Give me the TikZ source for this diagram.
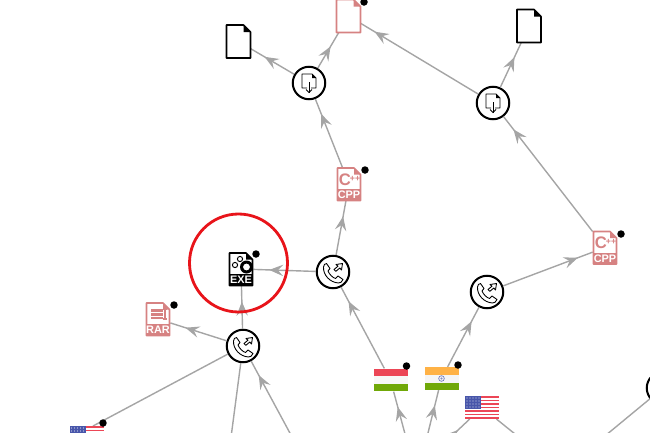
\documentclass[tikz,border=0pt]{standalone}
\usepackage{fontspec}
\setmainfont{Liberation Sans}
\usetikzlibrary{arrows.meta,decorations.markings}
\definecolor{linkgray}{RGB}{165,165,165}
\definecolor{tippink}{RGB}{214,130,130}
\definecolor{ringred}{RGB}{232,20,26}
\definecolor{usablue}{RGB}{72,86,170}
\definecolor{usared}{RGB}{236,70,86}
\definecolor{flaggreen}{RGB}{112,168,8}
\definecolor{flagorange}{RGB}{255,178,70}
\tikzset{
    plainlink/.style={color=linkgray,line width=0.8pt},
    link/.style={plainlink,postaction={decorate},decoration={markings,
        mark=at position -9pt with {\arrow{Stealth[length=8pt,width=6.5pt,inset=3pt,color=linkgray]}}}},
    callnode/.style={circle,draw,fill=white,line width=1.15pt,minimum size=0.65cm,inner sep=0pt},
    docbox/.style={minimum width=0.48cm,minimum height=0.66cm,inner sep=0pt},
    flagbox/.style={minimum width=0.68cm,minimum height=0.45cm,inner sep=0pt},
    blackdot/.style={circle,fill=black,minimum size=0.15cm,inner sep=0pt},
    badgetext/.style={text=white,font=\fontsize{6.2}{7}\selectfont\bfseries,inner sep=0pt},
    bigletter/.style={text=tippink,font=\fontsize{9.5}{10}\selectfont\bfseries,inner sep=0pt},
    smallplus/.style={text=tippink,font=\fontsize{5}{5}\selectfont\bfseries,inner sep=0pt},
    pics/phoneout/.style={code={
        \draw[line width=0.5pt,line join=round] (-9.5,-5) .. controls (-9.5,-7) and (-8,-8.5) .. (-6.5,-8.5)
            -- (-3,-3.5) -- (-5,-1) .. controls (-3.5,2.5) and (-0.5,5.5) .. (2.5,6.5)
            -- (5,4) -- (10,7.5) .. controls (9,10) and (7.5,11) .. (5.5,11)
            .. controls (-3,10.5) and (-10,3) .. (-9.5,-5) -- cycle;
        \draw[line width=0.5pt,line join=round] (1,-2.5) -- (5,-5.8) -- (3,-7.5) -- (9.5,-8.5)
            -- (8.5,-2) -- (6.8,-4) -- (2.8,-0.6) -- cycle;
    }},
    pics/docdown/.style={code={
        \draw[line width=0.5pt,line join=round] (-2,5) -- (-7,5) -- (-7,-9) -- (3,-9) -- (7,-5) -- (7,5) -- (2,5);
        \fill (3,-9) -- (3,-5) -- (7,-5) -- cycle;
        \draw[line width=0.5pt] (0,-1) -- (0,9.5);
        \draw[line width=0.5pt] (-3,6.5) -- (0,9.5) -- (3,6.5);
    }},
    pics/plaindoc/.style={code={
        \draw[#1,line width=0.9pt,line join=round] (-12,-16.5) -- (5,-16.5) -- (12,-9.5) -- (12,16.5) -- (-12,16.5) -- cycle;
        \fill[#1] (5,-16.5) -- (12,-9.5) -- (5,-9.5) -- cycle;
    }},
    pics/badge/.style 2 args={code={
        \draw[#1,line width=0.9pt,line join=round] (-11.5,-16) -- (5,-16) -- (11.5,-9.5) -- (11.5,16.5) -- (-11.5,16.5) -- cycle;
        \fill[#1] (5,-16) -- (11.5,-9.5) -- (5,-9.5) -- cycle;
        \fill[#1] (-11.5,5) rectangle (11.5,16.5);
        \node[badgetext] (label) at (0,10.8) {#2};
    }},
    pics/hungary/.style={code={
        \fill[usared] (-17,-11) rectangle (17,-4);
        \fill[black!3] (-17,-4) rectangle (17,4);
        \fill[flaggreen] (-17,4) rectangle (17,11);
    }},
    pics/india/.style={code={
        \fill[flagorange] (-17,-11.5) rectangle (17,-4);
        \fill[black!4] (-17,-4) rectangle (17,4);
        \fill[flaggreen] (-17,4) rectangle (17,11.5);
        \draw[usablue!80!white,line width=0.4pt] (0,0) circle (2.8);
        \fill[usablue!70!white] (0,0) circle (1.2);
    }},
    pics/usflag/.style={code={
        \fill[white] (-17,-11.5) rectangle (17,11.5);
        \foreach \s in {0,2,...,12} {
            \fill[usared] (-17,{-11.5+\s*1.77}) rectangle (17,{-11.5+(\s+1)*1.77});
        }
        \fill[usablue] (-17,-11.5) rectangle (-1,1);
        \foreach \x in {-15,-12,...,-3} {
            \foreach \y in {-9.5,-6.5,-3.5,-0.5} {
                \fill[white!75!usablue] (\x,\y) circle (0.6);
            }
        }
    }}
}
\begin{document}
\begin{tikzpicture}[x=0.02cm,y=-0.02cm]
    \clip (0,0) rectangle (650,433);
    % calls and downloads
    \node[callnode] (calla) at (243,346) {};
    \node[callnode] (callb) at (333,272) {};
    \node[callnode] (callc) at (487,292) {};
    \node[callnode] (loada) at (309,83) {};
    \node[callnode] (loadb) at (493,103) {};
    \node[callnode] (loadc) at (663,388) {};
    % files
    \node[docbox] (doca) at (238.5,41.5) {};
    \node[docbox] (docb) at (348.5,16) {};
    \node[docbox] (docc) at (529,26) {};
    \node[docbox] (cppa) at (349,184) {};
    \node[docbox] (cppb) at (605,247.5) {};
    \node[docbox] (exea) at (241,269) {};
    \node[docbox] (rara) at (158,319) {};
    % flags
    \node[flagbox] (flaghu) at (390.5,380) {};
    \node[flagbox] (flagin) at (441.5,378.5) {};
    \node[flagbox] (flagus) at (482,407.5) {};
    \coordinate (flagusb) at (93,426);
    % free ends below the page
    \coordinate (offa) at (230,445);
    \coordinate (offb) at (298,448);
    \coordinate (offc) at (408,445);
    \coordinate (offd) at (425,445);
    \coordinate (offe) at (440,447);
    \coordinate (offf) at (530,446);
    \coordinate (offg) at (594,445);

    \foreach \a/\b in {calla/exea,calla/rara,callb/exea,callb/cppa,cppa/loada,loada/doca,
        loada/docb,loadb/docb,loadb/docc,cppb/loadb,callc/cppb,flaghu/callb,flagin/callc,
        offb/calla,offc/flaghu,offd/flagin,offe/flagus} {
        \draw[link] (\a) -- (\b);
    }
    \foreach \a/\b in {flagusb/calla,offa/calla,flagus/offf,offg/loadc} {
        \draw[plainlink] (\a) -- (\b);
    }

    % icons
    \foreach \n/\x/\y in {iconca/243/346,iconcb/333/272,iconcc/487/292} {
        \pic (\n) at (\x,\y) {phoneout};
    }
    \foreach \n/\x/\y in {iconla/309/83,iconlb/493/103} {
        \pic (\n) at (\x,\y) {docdown};
    }
    \pic (icona) at (238.5,41.5) {plaindoc=black};
    \pic (iconb) at (348.5,16) {plaindoc=tippink};
    \pic (iconc) at (529,26) {plaindoc=black};
    \pic (iconcpa) at (349,184) {badge={tippink}{CPP}};
    \pic (iconcpb) at (605,247.5) {badge={tippink}{CPP}};
    \pic (iconex) at (241,269) {badge={black}{EXE}};
    \pic (iconra) at (158,319) {badge={tippink}{RAR}};
    \node[bigletter] (cla) at (345,179.5) {C};
    \node[smallplus] (pla) at (355,178.5) {++};
    \node[bigletter] (clb) at (601,243) {C};
    \node[smallplus] (plb) at (611,242) {++};
    % gears
    \fill (246.5,267) circle (6.5);
    \fill[white] (246.5,267) circle (3.4);
    \draw[line width=0.55pt] (240,259) circle (2.6);
    \draw[line width=0.55pt] (235,265) circle (2.6);
    % archive
    \fill[tippink] (151,309) rectangle (163,319);
    \fill[white] (150,312) rectangle (164,313);
    \fill[white] (150,315.5) rectangle (164,316.5);
    \draw[tippink,line width=0.6pt] (165,309) -- (165,319);
    \draw[tippink,line width=0.6pt] (163,309) -- (167,309);
    \draw[tippink,line width=0.6pt] (163,319) -- (167,319);
    % flags
    \pic (picflaghu) at (390.5,380) {hungary};
    \pic (picflagin) at (441.5,378.5) {india};
    \pic (picflagus) at (482,407.5) {usflag};
    \pic (picflagusb) at (86.5,437.5) {usflag};
    % dots
    \foreach \n/\x/\y in {dota/364/2,dotb/365/170,dotc/621/234,dotd/256/254,dote/174/305,
        dotf/103/423,dotg/406.5/366,doth/458/365} {
        \node[blackdot] (\n) at (\x,\y) {};
    }
    \draw[ringred,line width=1.6pt] (238.5,263) circle (49);
\end{tikzpicture}
\end{document}
